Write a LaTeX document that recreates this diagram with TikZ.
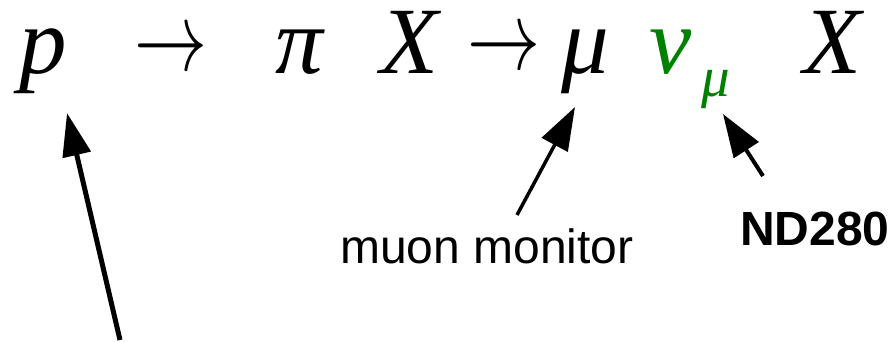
\documentclass[tikz,border=0pt]{standalone}
\usepackage{fix-cm}
\usepackage{fontspec}
\setmainfont{Liberation Serif}
\setsansfont{Liberation Sans}
\usetikzlibrary{arrows.meta}
\definecolor{nugreen}{RGB}{0,128,0}
\newcommand{\decayto}{\scalebox{1}[1.35]{$\rightarrow$}}
\tikzset{
    sym/.style = {inner sep=0pt, anchor=base, font=\fontsize{95}{95}\selectfont\itshape},
    subsym/.style = {inner sep=0pt, anchor=base, font=\fontsize{57}{57}\selectfont\itshape},
    decay/.style = {inner sep=0pt, anchor=base, font=\fontsize{73}{73}\selectfont},
    tag/.style = {inner sep=0pt, anchor=base, font=\fontsize{48}{48}\selectfont\sffamily},
    pointer/.style = {line width=3.5pt, -{Triangle[length=43pt, width=29pt]}}
}

\begin{document}
\begin{tikzpicture}[x=1pt, y=-1pt]
		\useasboundingbox (0,0) rectangle (892,342);
		% reaction chain
		\node (p) [sym] at (43,74) {p};
		\node (to1) [decay] at (171,71) {\decayto};
		\node (pi) [sym] at (299,74) {π};
		\node (X1) [sym] at (410,74) {X};
		\node (to2) [decay] at (504,70) {\decayto};
		\node (mu) [sym] at (585,74) {μ};
		\node (nu) [sym, text=nugreen] at (671,74) {ν};
		\node (numu) [subsym, text=nugreen] at (716,97) {μ};
		\node (X2) [sym] at (833,74) {X};
		% detectors
		\node (mon) [tag] at (487,263) {muon monitor};
		\node (nd) [tag, font=\fontsize{48}{48}\selectfont\sffamily\bfseries] at (815,245) {ND280};
		\coordinate (ptail) at (120,340);
		\coordinate (ptip) at (67,113);
		\coordinate (montail) at (517,215);
		\coordinate (montip) at (575,107);
		\coordinate (ndtail) at (763,176);
		\coordinate (ndtip) at (723,114);
		\draw [pointer, line width=5pt, -{Triangle[length=43pt, width=28pt]}] (ptail) -- (ptip);
		\draw [pointer] (montail) -- (montip);
		\draw [pointer, line width=4pt] (ndtail) -- (ndtip);
	\end{tikzpicture}
\end{document}
